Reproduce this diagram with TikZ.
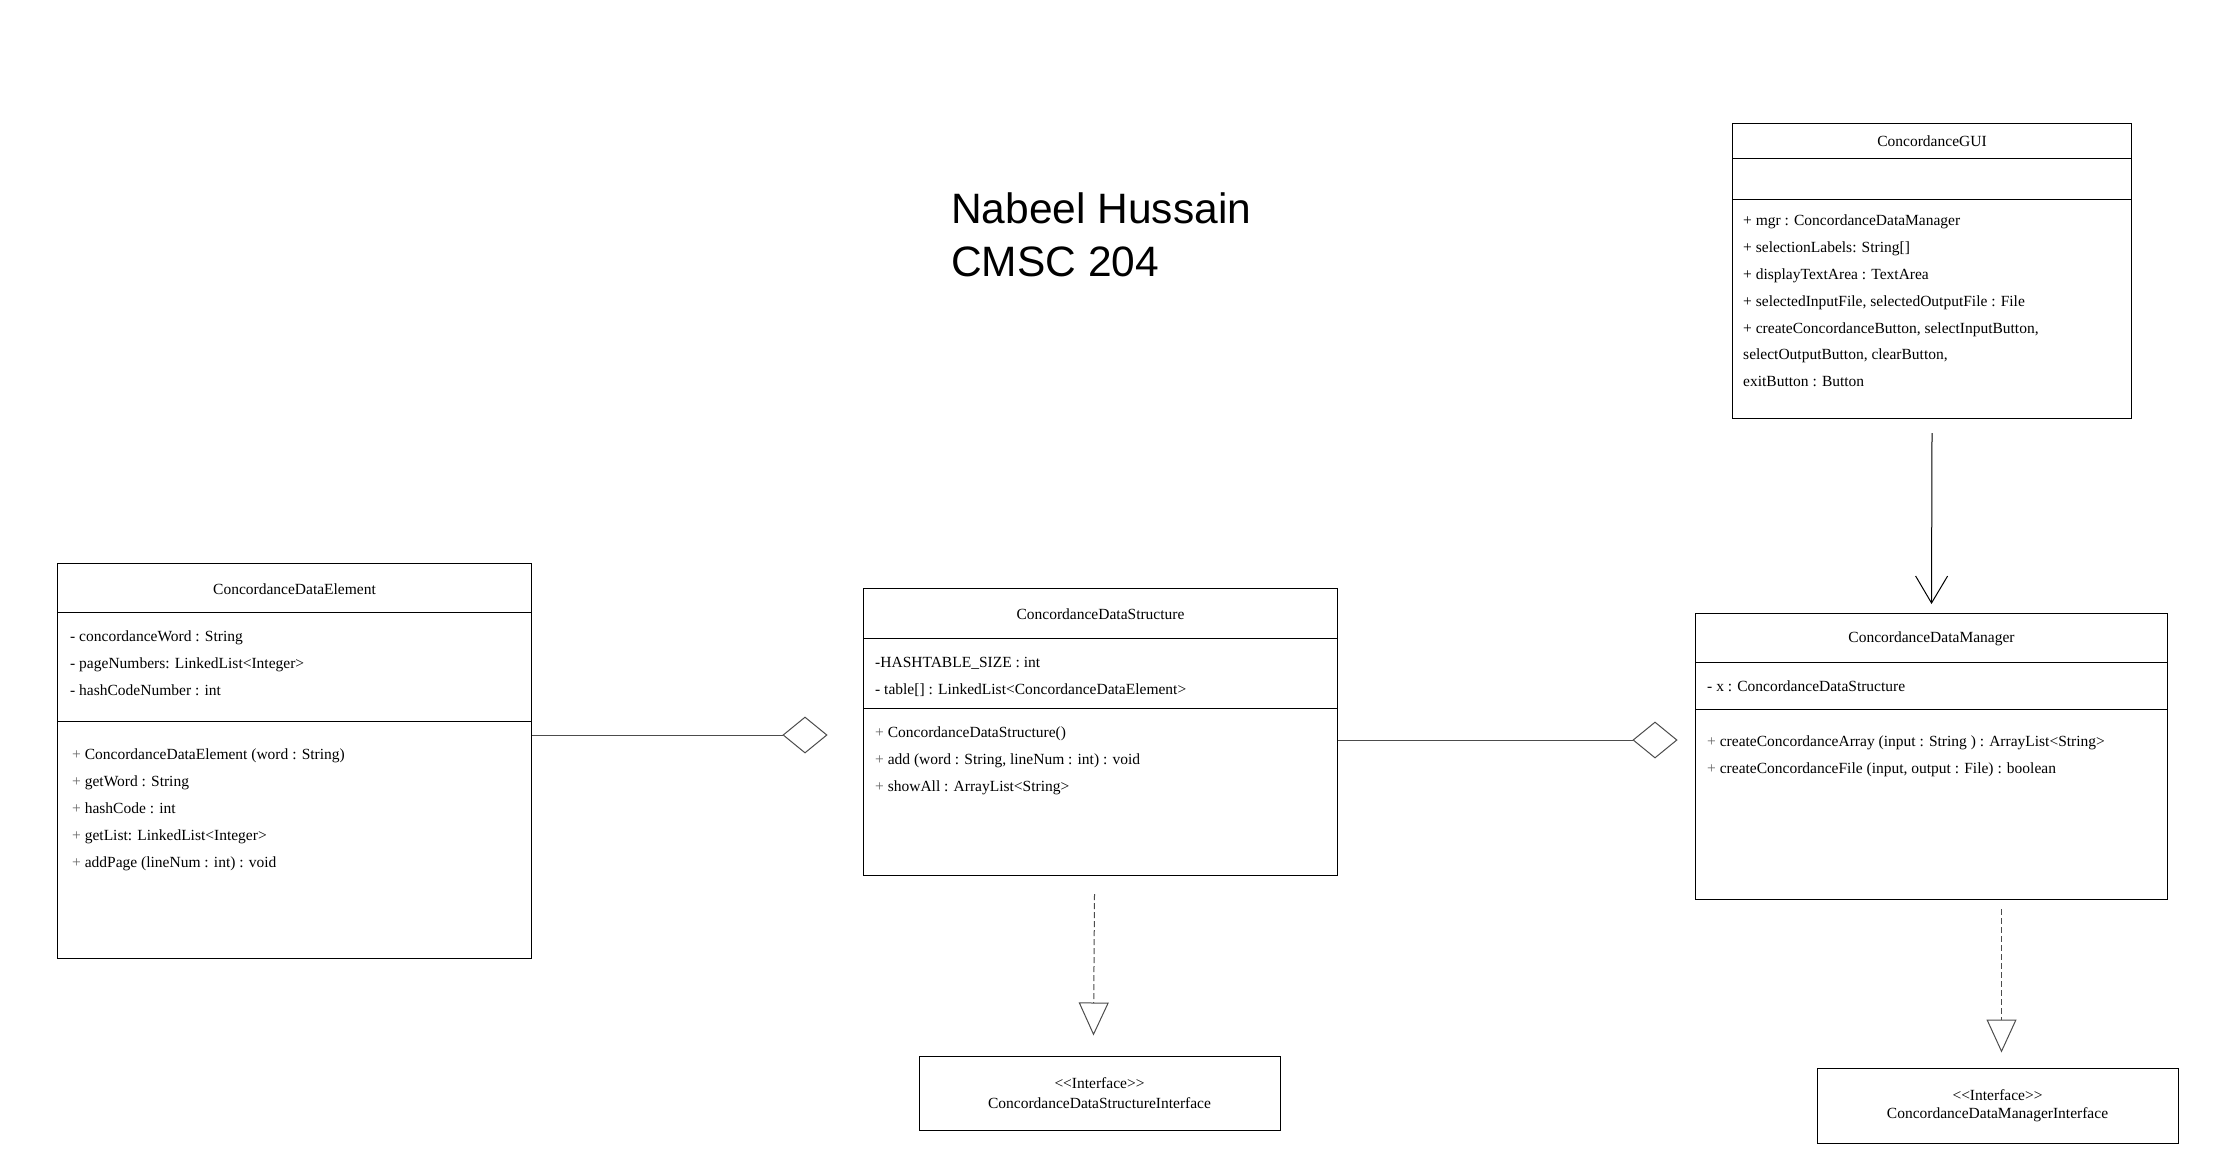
\documentclass[tikz,border=0pt]{standalone}
\usepackage{fontspec}
\setmainfont{Liberation Serif}
\newfontfamily\titlefont{Liberation Sans}
\usetikzlibrary{shapes.geometric,arrows.meta}

\begin{document}
\begin{tikzpicture}[x=1pt,y=-1pt,
    classbox/.style={draw=black,line width=1pt,inner sep=0pt,anchor=north west},
    member/.style={anchor=base west,inner sep=0pt,font=\fontsize{15.5}{18}\selectfont},
    classtitle/.style={inner sep=0pt,font=\fontsize{15.5}{18}\selectfont},
    aggdiamond/.style={diamond,draw=black!70,line width=1pt,fill=white,inner sep=0pt,minimum width=44pt,minimum height=36pt},
    realize/.style={draw=black!70,line width=1pt,dash pattern=on 6pt off 3pt,-{Triangle[open,length=33pt,width=30pt]}}]
    \useasboundingbox (0,0) rectangle (2240,1170);

    % title
    \node[anchor=base west,inner sep=0pt,font=\titlefont\fontsize{42.5}{50}\selectfont] (author) at (951,223) {Nabeel Hussain};
    \node[anchor=base west,inner sep=0pt,font=\titlefont\fontsize{42.5}{50}\selectfont] (course) at (951,276) {CMSC 204};

    % ConcordanceDataElement
    \node[classbox,minimum width=474pt,minimum height=395pt] (elem) at (57,563) {};
    \node[classtitle] (elemtitle) at (elem.north |- 0,589) {ConcordanceDataElement};
    \draw (elem.west |- 0,612) -- (elem.east |- 0,612);
    \draw (elem.west |- 0,721) -- (elem.east |- 0,721);
    \foreach\t [count=\i] in {{- concordanceWord : String},{- pageNumbers: LinkedList<Integer>},{- hashCodeNumber : int}}{
        \node[member] (elemattr\i) at (70,614+27*\i) {\t};
    }
    \foreach\t [count=\i] in {{ConcordanceDataElement (word : String)},{getWord : String},{hashCode : int},{getList: LinkedList<Integer>},{addPage (lineNum : int) : void}}{
        \node[member] (elemop\i) at (72,732+27*\i) {{\color{black!60}+} \t};
    }

    % ConcordanceDataStructure
    \node[classbox,minimum width=474pt,minimum height=287pt] (struct) at (863,588) {};
    \node[classtitle] (structtitle) at (struct.north |- 0,614) {ConcordanceDataStructure};
    \draw (struct.west |- 0,638) -- (struct.east |- 0,638);
    \draw (struct.west |- 0,708) -- (struct.east |- 0,708);
    \foreach\t [count=\i] in {{-HASHTABLE\_SIZE : int},{- table[] : LinkedList<ConcordanceDataElement>}}{
        \node[member] (structattr\i) at (875,640+27*\i) {\t};
    }
    \foreach\t [count=\i] in {{ConcordanceDataStructure()},{add (word : String, lineNum : int) : void},{showAll : ArrayList<String>}}{
        \node[member] (structop\i) at (875,710+27*\i) {{\color{black!60}+} \t};
    }

    % ConcordanceDataManager
    \node[classbox,minimum width=472pt,minimum height=286pt] (mgr) at (1695,613) {};
    \node[classtitle] (mgrtitle) at (mgr.north |- 0,639) {ConcordanceDataManager};
    \draw (mgr.west |- 0,662) -- (mgr.east |- 0,662);
    \draw (mgr.west |- 0,709) -- (mgr.east |- 0,709);
    \node[member] (mgrattr1) at (1707,691) {- x : ConcordanceDataStructure};
    \foreach\t [count=\i] in {{createConcordanceArray (input : String ) : ArrayList<String>},{createConcordanceFile (input, output : File) : boolean}}{
        \node[member] (mgrop\i) at (1707,719+27*\i) {{\color{black!60}+} \t};
    }

    % ConcordanceGUI
    \node[classbox,minimum width=399pt,minimum height=295pt] (gui) at (1732,123) {};
    \node[classtitle] (guititle) at (gui.north |- 0,141) {ConcordanceGUI};
    \draw (gui.west |- 0,158) -- (gui.east |- 0,158);
    \draw (gui.west |- 0,199) -- (gui.east |- 0,199);
    \foreach\t [count=\i] in {{+ mgr : ConcordanceDataManager},{+ selectionLabels: String[]},{+ displayTextArea : TextArea},{+ selectedInputFile, selectedOutputFile : File},{+ createConcordanceButton, selectInputButton,},{selectOutputButton, clearButton,},{exitButton : Button}}{
        \node[member] (guiattr\i) at (1743,199+26.8*\i) {\t};
    }

    % interfaces
    \node[draw=black,line width=1pt,minimum width=361pt,minimum height=74pt,align=center,font=\fontsize{15.5}{20}\selectfont] (structif) at (1099.5,1093)
        {<{}<Interface>{}>\\ConcordanceDataStructureInterface};
    \node[draw=black,line width=1pt,minimum width=361pt,minimum height=75pt,align=center,font=\fontsize{15.5}{18.5}\selectfont] (mgrif) at (1997.5,1105.5)
        {<{}<Interface>{}>\\ConcordanceDataManagerInterface};

    % aggregation
    \node[aggdiamond] (elemagg) at (805,735) {};
    \node[aggdiamond] (structagg) at (1655,740) {};
    \draw[black!70,line width=1pt] (elemagg.west -| elem.east) -- (elemagg.west);
    \draw[black!70,line width=1pt] (structagg.west -| struct.east) -- (structagg.west);

    % association
    \draw[line width=1pt,-{Straight Barb[length=27pt,width=32pt]}] ([yshift=-14pt]gui.south) -- ([yshift=9pt]mgr.north);

    % realization
    \draw[realize] ([xshift=-6pt,yshift=-18pt]struct.south) -- ([xshift=-6pt,yshift=20pt]structif.north);
    \draw[realize] ([xshift=4pt,yshift=-9pt]mgr.south -| mgrif.north) -- ([xshift=4pt,yshift=15pt]mgrif.north);
\end{tikzpicture}
\end{document}
